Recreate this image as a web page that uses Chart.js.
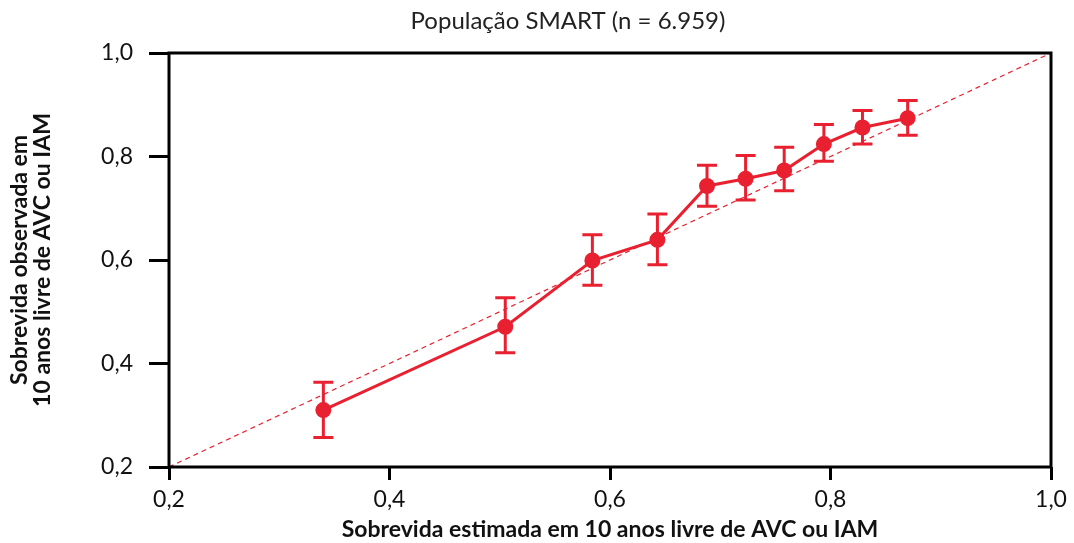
<!DOCTYPE html>
<html>
<head>
<meta charset="utf-8">
<script src="https://cdn.jsdelivr.net/npm/chart.js@4"></script>
<style>
  html, body { margin: 0; padding: 0; background: #fff; }
  #wrap { width: 1074px; height: 543px; }
</style>
</head>
<body>
<div id="wrap"><canvas id="calib"></canvas></div>
<script>
const estimated = [0.340, 0.505, 0.584, 0.643, 0.688, 0.723, 0.758, 0.794, 0.829, 0.870];
const observed  = [0.310, 0.471, 0.599, 0.639, 0.743, 0.757, 0.773, 0.824, 0.856, 0.874];
const lower     = [0.257, 0.421, 0.551, 0.591, 0.704, 0.716, 0.734, 0.791, 0.824, 0.841];
const upper     = [0.364, 0.527, 0.649, 0.689, 0.783, 0.802, 0.818, 0.862, 0.889, 0.908];
const identity  = [0.2, 1.0];

const red = '#e8202f';
const fontFamily = 'Lato, "Open Sans", sans-serif';

// error bars for the observed series
const errorBars = {
  id: 'errorBars',
  afterDatasetsDraw(chart) {
    const ctx = chart.ctx;
    const xs = chart.scales.x, ys = chart.scales.y;
    ctx.save();
    ctx.strokeStyle = red;
    ctx.lineWidth = 3;
    estimated.forEach((e, i) => {
      const px = xs.getPixelForValue(e);
      const pLo = ys.getPixelForValue(lower[i]);
      const pHi = ys.getPixelForValue(upper[i]);
      ctx.beginPath();
      ctx.moveTo(px, pLo); ctx.lineTo(px, pHi);
      ctx.moveTo(px - 10, pLo); ctx.lineTo(px + 10, pLo);
      ctx.moveTo(px - 10, pHi); ctx.lineTo(px + 10, pHi);
      ctx.stroke();
    });
    ctx.restore();
  }
};

// box around the plot area and the title
const frame = {
  id: 'frame',
  afterDraw(chart) {
    const { ctx, chartArea: a } = chart;
    ctx.save();
    ctx.strokeStyle = '#000';
    ctx.lineWidth = 3;
    ctx.strokeRect(a.left, a.top, a.right - a.left, a.bottom - a.top);
    ctx.fillStyle = '#222';
    ctx.font = '24px ' + fontFamily;
    ctx.textAlign = 'center';
    ctx.textBaseline = 'middle';
    ctx.fillText('População SMART (n = 6.959)', 568, 21);
    ctx.restore();
  }
};

const fmt = v => v.toFixed(1).replace('.', ',');

new Chart(document.getElementById('calib'), {
  type: 'scatter',
  data: {
    datasets: [{
      data: estimated.map((e, i) => ({ x: e, y: observed[i] })),
      showLine: true,
      borderColor: red,
      backgroundColor: red,
      borderWidth: 3,
      pointRadius: 6.5,
      pointHoverRadius: 6.5,
      order: 1
    }, {
      data: identity.map(v => ({ x: v, y: v })),
      showLine: true,
      borderColor: red,
      borderWidth: 1.2,
      borderDash: [5, 4],
      pointRadius: 0,
      order: 2
    }]
  },
  options: {
    responsive: true,
    maintainAspectRatio: false,
    animation: false,
    layout: { padding: { top: 53, right: 23, left: 0, bottom: 0 } },
    plugins: {
      legend: { display: false },
      tooltip: { enabled: false }
    },
    scales: {
      x: {
        type: 'linear',
        min: 0.2, max: 1.0,
        ticks: { stepSize: 0.2, callback: fmt, color: '#111', padding: 6,
                 font: { family: fontFamily, size: 23 }, maxRotation: 0 },
        grid: { drawOnChartArea: false, drawTicks: true, tickLength: 13, lineWidth: 3, color: '#000' },
        border: { display: false },
        title: { display: true, text: 'Sobrevida estimada em 10 anos livre de AVC ou IAM',
                 color: '#111', font: { family: fontFamily, size: 23, weight: 'bold' },
                 padding: { top: 0, bottom: 0 } },
        afterFit(scale) { scale.height = 76; }
      },
      y: {
        min: 0.2, max: 1.0,
        ticks: { stepSize: 0.2, callback: fmt, color: '#111', padding: 16,
                 font: { family: fontFamily, size: 23 } },
        grid: { drawOnChartArea: false, drawTicks: true, tickLength: 20, lineWidth: 3, color: '#000' },
        border: { display: false },
        title: { display: true, text: ['Sobrevida observada em', '10 anos livre de AVC ou IAM'],
                 color: '#111', font: { family: fontFamily, size: 23, weight: 'bold', lineHeight: 1.0 },
                 padding: { top: 8, bottom: 0 } },
        afterFit(scale) { scale.width = 169; }
      }
    }
  },
  plugins: [errorBars, frame]
});
</script>
</body>
</html>
